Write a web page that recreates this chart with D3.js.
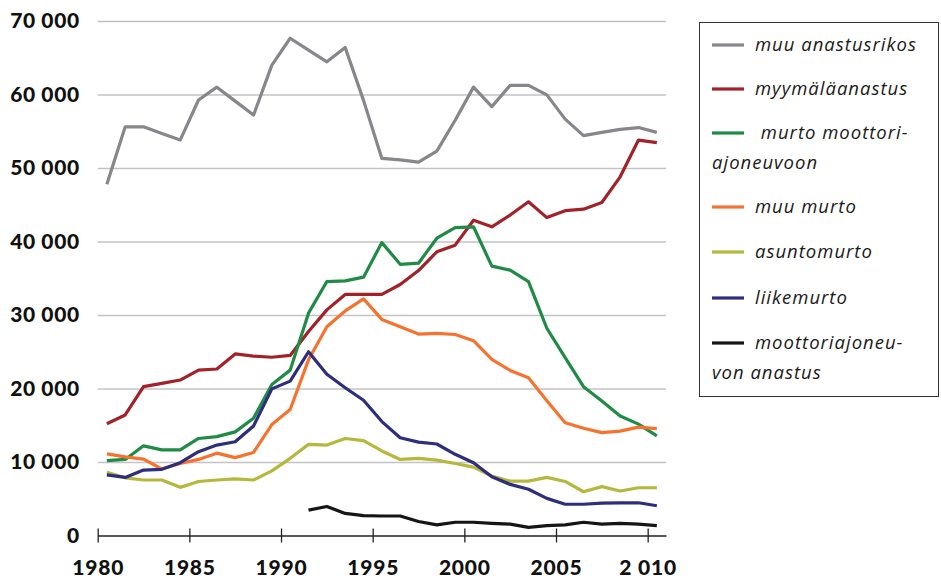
<!DOCTYPE html>
<html>
<head>
<meta charset="utf-8">
<script src="https://cdn.jsdelivr.net/npm/d3@7"></script>
<style>
  body { margin: 0; background: #fff; }
  text { font-family: Lato, "Open Sans", sans-serif; }
</style>
</head>
<body>
<script>
var years = d3.range(1980, 2011);

// values, 1980..2010
var muuAnastusrikos = [47800, 55600, 55600, 54700, 53800, 59250, 61000, 59100, 57200, 64000,
    67650, 66050, 64450, 66400, 59200, 51300, 51100, 50800, 52300, 56500,
    61000, 58350, 61250, 61250, 59950, 56650, 54400, 54850, 55250, 55500, 54850];
var myymalaanastus = [15200, 16400, 20250, 20700, 21150, 22500, 22650, 24700, 24400, 24250,
    24500, 27750, 30700, 32800, 32800, 32800, 34150, 36050, 38600, 39500,
    42900, 42000, 43600, 45400, 43250, 44200, 44400, 45300, 48800, 53800, 53450];
var murtoMoottoriajoneuvoon = [10200, 10350, 12200, 11650, 11650, 13200, 13450, 14100, 15950, 20550,
    22500, 30250, 34550, 34650, 35150, 39850, 36900, 37050, 40450, 41900,
    42000, 36650, 36100, 34550, 28200, 24200, 20250, 18300, 16250, 15150, 13550];
var muuMurto = [11100, 10700, 10400, 9050, 9800, 10350, 11200, 10600, 11300, 15100,
    17150, 23900, 28400, 30550, 32200, 29400, 28400, 27400, 27500, 27350,
    26500, 23950, 22450, 21450, 18350, 15350, 14600, 14000, 14200, 14750, 14550];
var asuntomurto = [8600, 7850, 7550, 7550, 6550, 7350, 7550, 7700, 7550, 8800,
    10500, 12400, 12300, 13200, 12900, 11500, 10350, 10500, 10250, 9800,
    9300, 8100, 7400, 7400, 7900, 7350, 5950, 6650, 6050, 6500, 6500];
var liikemurto = [8250, 7900, 8900, 9000, 9900, 11400, 12300, 12750, 14900, 19950,
    21000, 25000, 21950, 20100, 18400, 15500, 13300, 12700, 12450, 11050,
    9900, 8000, 6950, 6300, 5050, 4250, 4250, 4400, 4450, 4450, 4050];
var moottoriajoneuvonAnastus = [null, null, null, null, null, null, null, null, null, null,
    null, 3450, 3950, 3000, 2700, 2650, 2650, 1900, 1450, 1800,
    1800, 1650, 1550, 1100, 1350, 1450, 1800, 1550, 1650, 1550, 1350];

var seriesNames = ["muu anastusrikos", "myymäläanastus", " murto moottori-|ajoneuvoon",
    "muu murto", "asuntomurto", "liikemurto", "moottoriajoneu-|von anastus"];
var seriesColors = ["#87878b", "#a2222a", "#1f8b45", "#f5732f", "#b6b73d", "#2e2f7c", "#151515"];
var seriesValues = [muuAnastusrikos, myymalaanastus, murtoMoottoriajoneuvoon, muuMurto,
    asuntomurto, liikemurto, moottoriajoneuvonAnastus];

var yTicks = [0, 10000, 20000, 30000, 40000, 50000, 60000, 70000];
var xTicks = [1980, 1985, 1990, 1995, 2000, 2005, 2010];
var xTickLabels = ["1980", "1985", "1990", "1995", "2000", "2005", "2 010"];

var margin = {top: 21, right: 275, bottom: 43.5, left: 97.7};
var width = 941 - margin.left - margin.right,
    height = 579 - margin.top - margin.bottom;

var svg = d3.select("body")
    .append("svg")
    .attr("width", 941)
    .attr("height", 579);

var g = svg.append("g")
    .attr("transform", "translate(" + margin.left + "," + margin.top + ")");

var x = d3.scaleLinear()
    .domain([1980, 2011])
    .range([0, width]);

var y = d3.scaleLinear()
    .domain([0, 70000])
    .range([height, 0]);

var fmt = d3.formatLocale({decimal: ",", thousands: " ", grouping: [3], currency: ["", ""]}).format(",");

// gridlines
g.append("g")
    .call(d3.axisLeft(y).tickValues(yTicks.slice(1)).tickSize(-width).tickFormat(""))
    .call(function(a) {
        a.select(".domain").remove();
        a.selectAll(".tick line").attr("stroke", "#c3c3c7").attr("stroke-width", 1.3);
    });

// y labels
g.append("g")
    .call(d3.axisLeft(y).tickValues(yTicks).tickSize(0).tickPadding(18).tickFormat(fmt))
    .call(function(a) {
        a.select(".domain").remove();
        a.selectAll("text")
            .attr("fill", "#111")
            .style("font-size", "21px")
            .style("font-weight", "900")
            .style("letter-spacing", "0.6px");
    });

// x axis
g.append("g")
    .attr("transform", "translate(0," + height + ")")
    .call(d3.axisBottom(x).tickValues(xTicks).tickSizeOuter(0)
        .tickFormat(function(d, i) { return xTickLabels[i]; }))
    .call(function(a) {
        a.select(".domain").attr("stroke", "#222").attr("stroke-width", 1.3);
        a.selectAll(".tick line").attr("y1", -7).attr("y2", 7)
            .attr("stroke", "#222").attr("stroke-width", 1.3);
        a.selectAll("text")
            .attr("y", 25)
            .attr("fill", "#111")
            .style("font-size", "21px")
            .style("font-weight", "900")
            .style("letter-spacing", "0.8px");
    });

var line = d3.line()
    .defined(function(d) { return d != null; })
    .x(function(d, i) { return x(years[i] + 0.5); })
    .y(function(d) { return y(d); });

g.selectAll(".series")
    .data(seriesValues)
    .enter().append("path")
    .attr("class", "series")
    .attr("fill", "none")
    .attr("stroke", function(d, i) { return seriesColors[i]; })
    .attr("stroke-width", 3.2)
    .attr("stroke-linejoin", "round")
    .attr("d", line);

// legend
var legend = svg.append("g");

legend.append("rect")
    .attr("x", 699.5)
    .attr("y", 22.5)
    .attr("width", 239)
    .attr("height", 374)
    .attr("fill", "#fff")
    .attr("stroke", "#333")
    .attr("stroke-width", 1);

var rowY = [45, 89, 133, 207, 252, 298, 343];

seriesNames.forEach(function(name, i) {
    legend.append("line")
        .attr("x1", 712).attr("x2", 744)
        .attr("y1", rowY[i]).attr("y2", rowY[i])
        .attr("stroke", seriesColors[i])
        .attr("stroke-width", 3.2);
    var parts = name.split("|");
    var t = legend.append("text")
        .attr("fill", "#1a1a1a")
        .style("font-family", "'Open Sans', sans-serif")
        .style("font-size", "18.5px")
        .style("font-style", "italic")
        .style("letter-spacing", "1px")
        .attr("xml:space", "preserve");
    t.append("tspan")
        .attr("x", 755).attr("y", rowY[i]).attr("dy", "0.35em")
        .text(parts[0]);
    if (parts[1]) {
        t.append("tspan")
            .attr("x", 712).attr("y", rowY[i] + 30).attr("dy", "0.35em")
            .text(parts[1]);
    }
});
</script>
</body>
</html>
